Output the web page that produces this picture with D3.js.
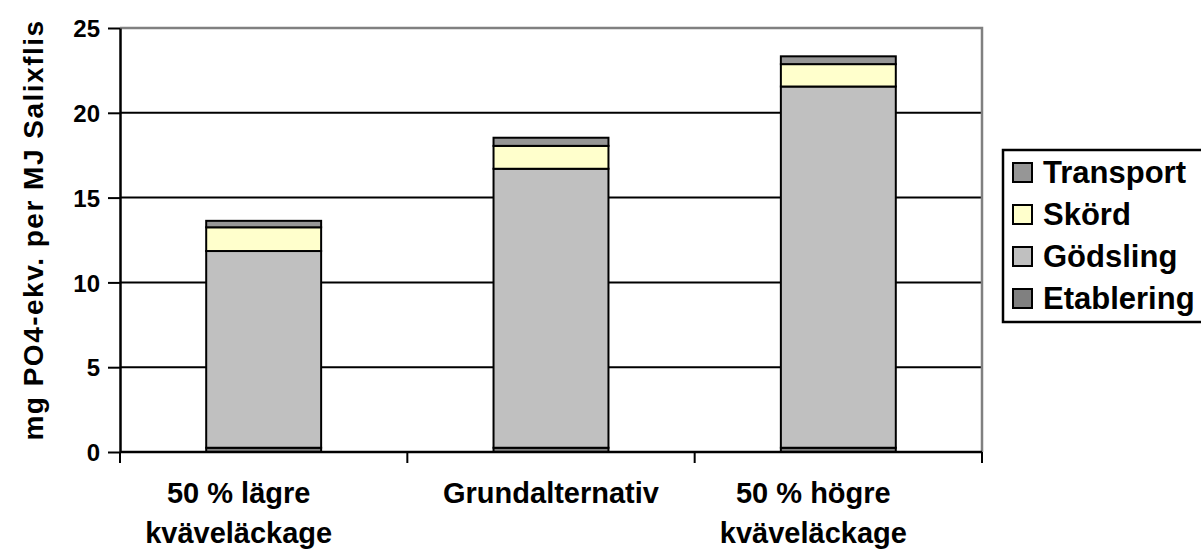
<!DOCTYPE html>
<html>
<head>
<meta charset="utf-8">
<script src="https://cdn.jsdelivr.net/npm/d3@7"></script>
<style>
  body { margin: 0; background: #fff; }
  text { font-family: Arial, "Liberation Sans", sans-serif; font-weight: bold; fill: #000; }
</style>
</head>
<body>
<script>
/* data */
var categories = [['50 % lägre', 'kväveläckage'], ['Grundalternativ'], ['50 % högre', 'kväveläckage']]
var series = ['Etablering', 'Gödsling', 'Skörd', 'Transport']
var etablering = [0.25, 0.25, 0.25]
var godsling = [11.6, 16.45, 21.3]
var skord = [1.4, 1.35, 1.32]
var transport = [0.38, 0.48, 0.46]
var yTicks = [0, 5, 10, 15, 20, 25]
var colors = ['#808080', '#c0c0c0', '#ffffcc', '#969696']

/* setup */
var width = 1201
var height = 555
var margin = { top: 28, right: 219, bottom: 103, left: 120 }
var w = width - margin.left - margin.right
var h = height - margin.top - margin.bottom

var svg = d3.select('body').append('svg')
    .attr('width', width)
    .attr('height', height)

var g = svg.append('g')
    .attr('transform', 'translate(' + margin.left + ',' + margin.top + ')')

var x = d3.scaleBand()
    .domain(d3.range(categories.length))
    .range([0, w])
    .paddingInner(0.6)
    .paddingOuter(0.3)

var y = d3.scaleLinear().domain([0, 25]).range([h, 0])

var rows = d3.range(categories.length).map(function(i) {
    return { Etablering: etablering[i], 'Gödsling': godsling[i], 'Skörd': skord[i], Transport: transport[i] }
})
var stack = d3.stack().keys(series)(rows)

/* grid */
g.append('g').selectAll('line').data(yTicks.slice(1, -1))
    .enter().append('line')
    .attr('x1', 0).attr('x2', w)
    .attr('y1', function(d) { return y(d) }).attr('y2', function(d) { return y(d) })
    .attr('stroke', '#000').attr('stroke-width', 2)

/* plot border (top, right) */
g.append('path')
    .attr('d', 'M0,0H' + w + 'V' + h)
    .attr('fill', 'none').attr('stroke', '#808080').attr('stroke-width', 2.5)

/* bars */
g.append('g').selectAll('g').data(stack)
    .enter().append('g')
    .attr('fill', function(d, i) { return colors[i] })
    .selectAll('rect').data(function(d) { return d })
    .enter().append('rect')
    .attr('x', function(d, i) { return x(i) })
    .attr('width', x.bandwidth())
    .attr('y', function(d) { return y(d[1]) })
    .attr('height', function(d) { return y(d[0]) - y(d[1]) })
    .attr('stroke', '#000').attr('stroke-width', 2)

/* y axis */
var yAxis = g.append('g')
    .call(d3.axisLeft(y).tickValues(yTicks).tickSize(12).tickPadding(8).tickSizeOuter(0))
yAxis.attr('font-size', null).attr('font-family', null)
yAxis.select('.domain').attr('stroke-width', 2.5)
yAxis.selectAll('.tick line').attr('stroke-width', 2).attr('x2', -12)
yAxis.selectAll('text').style('font-size', '24px').attr('dy', '0.36em')

/* x axis */
var xg = g.append('g').attr('transform', 'translate(0,' + h + ')')
xg.append('line').attr('x1', 0).attr('x2', w).attr('stroke', '#000').attr('stroke-width', 2.5)
xg.selectAll('.tk').data(d3.range(categories.length + 1))
    .enter().append('line')
    .attr('x1', function(d) { return d * x.step() }).attr('x2', function(d) { return d * x.step() })
    .attr('y1', 0).attr('y2', 11)
    .attr('stroke', '#000').attr('stroke-width', 2)

// two-line labels sit a bit left of the bar centre in the original
var lbl = xg.selectAll('.lbl').data(categories)
    .enter().append('text')
    .attr('text-anchor', 'middle')
    .style('font-size', '29px')
    .attr('transform', function(d, i) {
        var off = d.length > 1 ? -25 : 0
        return 'translate(' + (x(i) + x.bandwidth() / 2 + off) + ',51)'
    })
lbl.selectAll('tspan').data(function(d) { return d })
    .enter().append('tspan')
    .attr('x', 0)
    .attr('y', function(d, i) { return i * 40 })
    .text(function(d) { return d })

/* y title */
svg.append('text')
    .attr('transform', 'translate(43,' + (margin.top + h / 2 - 10) + ') rotate(-90)')
    .attr('text-anchor', 'middle')
    .style('font-size', '28px')
    .style('letter-spacing', '1.5px')
    .text('mg PO4-ekv. per MJ Salixflis')

/* legend */
var lg = svg.append('g').attr('transform', 'translate(1003,150)')
lg.append('rect')
    .attr('width', 220).attr('height', 172)
    .attr('fill', '#fff').attr('stroke', '#000').attr('stroke-width', 2.5)
var item = lg.selectAll('.item').data(series.slice().reverse())
    .enter().append('g')
    .attr('transform', function(d, i) { return 'translate(10,' + (13 + i * 42) + ')' })
item.append('rect')
    .attr('width', 19).attr('height', 19)
    .attr('fill', function(d) { return colors[series.indexOf(d)] })
    .attr('stroke', '#000').attr('stroke-width', 2)
item.append('text')
    .attr('x', 30).attr('y', 20)
    .style('font-size', '31px')
    .text(function(d) { return d })
</script>
</body>
</html>
